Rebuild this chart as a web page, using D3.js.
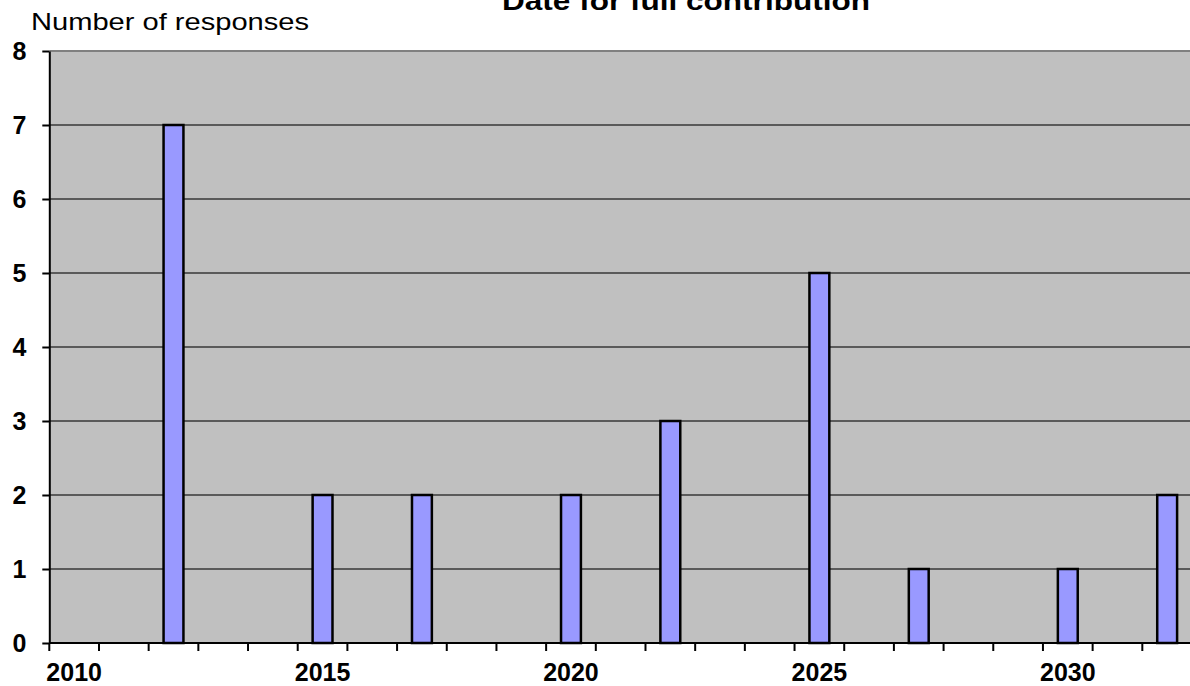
<!DOCTYPE html>
<html>
<head>
<meta charset="utf-8">
<script src="https://cdn.jsdelivr.net/npm/d3@7"></script>
<style>
  body { margin: 0; background: #fff; }
  svg text { font-family: 'Liberation Sans', Arial, sans-serif; }
</style>
</head>
<body>
<div id="chart"></div>
<script>
const years = ['2010', '2011', '2012', '2013', '2014', '2015', '2016', '2017', '2018', '2019', '2020',
    '2021', '2022', '2023', '2024', '2025', '2026', '2027', '2028', '2029', '2030', '2031', '2032'];
const responses = [0, 0, 7, 0, 0, 2, 0, 2, 0, 0, 2, 0, 3, 0, 0, 5, 0, 1, 0, 0, 1, 0, 2];
const xTickLabels = ['2010', '2015', '2020', '2025', '2030'];
const yTicks = [0, 1, 2, 3, 4, 5, 6, 7, 8];
const chartTitle = 'Date for full contribution';
const yTitle = 'Number of responses';

const W = 1190, H = 686;
const plot = { left: 49.3, right: 1192, top: 51, bottom: 643 };

const svg = d3.select('#chart')
    .append('svg')
    .attr('width', W)
    .attr('height', H);

const x = d3.scaleBand()
    .domain(years)
    .range([plot.left, plot.right])
    .padding(0);

const y = d3.scaleLinear()
    .domain([0, 8])
    .range([plot.bottom, plot.top]);

// plot area
svg.append('rect')
    .attr('x', plot.left)
    .attr('y', plot.top)
    .attr('width', plot.right - plot.left)
    .attr('height', plot.bottom - plot.top)
    .attr('fill', '#c0c0c0');

// gridlines
svg.append('g')
    .selectAll('line')
    .data(yTicks.filter(d => d > 0))
    .join('line')
    .attr('x1', plot.left)
    .attr('x2', plot.right)
    .attr('y1', d => y(d))
    .attr('y2', d => y(d))
    .attr('stroke', d => d === 8 ? '#808080' : '#383838')
    .attr('stroke-width', d => d === 8 ? 2 : 1.5);

// bars
const data = years.map((yr, i) => ({ year: yr, value: responses[i] }));
const bw = x.bandwidth();
svg.append('g')
    .selectAll('rect')
    .data(data.filter(d => d.value > 0))
    .join('rect')
    .attr('x', d => x(d.year) + bw * 0.3)
    .attr('width', bw * 0.4)
    .attr('y', d => y(d.value))
    .attr('height', d => y(0) - y(d.value))
    .attr('fill', '#9999ff')
    .attr('stroke', '#000')
    .attr('stroke-width', 2.5);

// y axis
const yAxis = svg.append('g')
    .attr('transform', 'translate(' + plot.left + ',0)')
    .call(d3.axisLeft(y).tickValues(yTicks).tickSize(7).tickSizeOuter(0).tickPadding(16));
yAxis.select('.domain').attr('stroke', '#000').attr('stroke-width', 2);
yAxis.selectAll('.tick line').attr('stroke', '#000').attr('stroke-width', 2);
yAxis.selectAll('text')
    .attr('font-size', 25)
    .attr('font-weight', 'bold')
    .attr('fill', '#000');

// x axis: ticks between categories, labels every 5 years
const xAxis = svg.append('g')
    .attr('transform', 'translate(0,' + plot.bottom + ')');
xAxis.append('line')
    .attr('x1', plot.left)
    .attr('x2', plot.right)
    .attr('stroke', '#000')
    .attr('stroke-width', 2);
xAxis.selectAll('.xtick')
    .data(years)
    .join('line')
    .attr('class', 'xtick')
    .attr('x1', d => x(d))
    .attr('x2', d => x(d))
    .attr('y1', 0)
    .attr('y2', 8)
    .attr('stroke', '#000')
    .attr('stroke-width', 2);
const xLabels = svg.append('g')
    .attr('transform', 'translate(0,' + plot.bottom + ')')
    .call(d3.axisBottom(x).tickValues(xTickLabels).tickSize(0).tickPadding(20));
xLabels.select('.domain').remove();
xLabels.selectAll('text')
    .attr('font-size', 25)
    .attr('font-weight', 'bold')
    .attr('fill', '#000');

// titles
svg.append('text')
    .attr('x', 686)
    .attr('y', 9.5)
    .attr('text-anchor', 'middle')
    .attr('font-size', 26)
    .attr('font-weight', 'bold')
    .attr('textLength', 368)
    .attr('lengthAdjust', 'spacingAndGlyphs')
    .text(chartTitle);

svg.append('text')
    .attr('x', 31)
    .attr('y', 30)
    .attr('font-size', 24)
    .attr('textLength', 278)
    .attr('lengthAdjust', 'spacingAndGlyphs')
    .text(yTitle);
</script>
</body>
</html>
